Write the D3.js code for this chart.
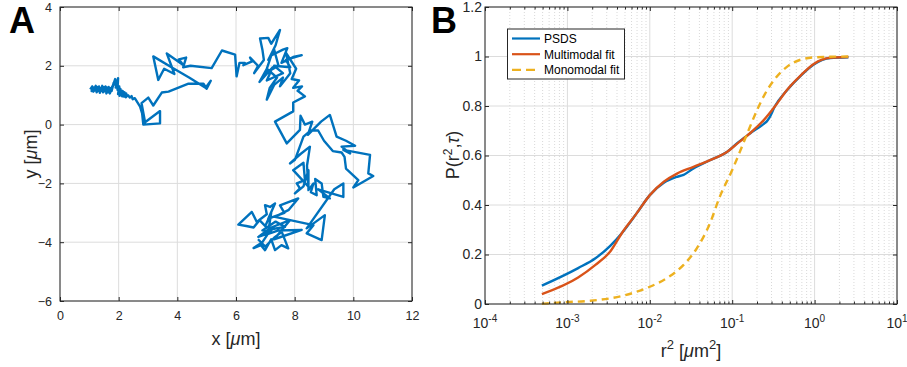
<!DOCTYPE html>
<html><head><meta charset="utf-8">
<script src="https://cdn.jsdelivr.net/npm/d3@7"></script>
<style>
body{margin:0;background:#fff;}
svg{display:block;font-family:"Liberation Sans",Arial,sans-serif;}
</style></head>
<body><svg id="c" width="907" height="367"></svg>
<script>
// ---------- Panel A data: trajectory (x, y in µm) ----------
const trajectory = [
[1.03,1.2],[1.1,1.3],[1.08,1.14],[1.16,1.26],[1.14,1.12],[1.22,1.32],[1.2,1.16],[1.28,1.28],[1.25,1.1],[1.33,1.3],
[1.31,1.14],[1.38,1.24],[1.36,1.08],[1.44,1.32],[1.42,1.15],[1.5,1.27],[1.47,1.1],[1.55,1.3],[1.53,1.13],[1.6,1.26],
[1.58,1.06],[1.66,1.28],[1.64,1.1],[1.72,1.24],[1.7,1.06],[1.78,1.3],[1.76,1.14],[1.83,1.42],[1.8,1.32],[1.88,1.55],
[1.86,1.36],[1.94,1.5],[1.9,1.26],[1.98,1.58],[1.96,1.18],[2.02,1.3],[1.98,1.04],[2.06,1.22],[2.03,0.98],[2.1,1.16],
[2.07,1.0],[2.14,1.14],[2.12,0.96],[2.2,1.1],[2.18,0.95],[2.26,1.06],[2.24,0.93],[2.32,1.0],[2.38,0.92],[2.44,0.97],
[2.48,0.86],[2.55,0.9],[2.73,0.61],[2.8,0.38],[2.84,0.0],[3.41,0.04],[3.41,0.46],[2.9,0.08],[2.78,0.73],[3.01,0.92],
[3.18,0.65],[3.47,1.09],[3.7,1.12],[4.38,1.39],[4.89,1.39],[5.0,1.22],[5.14,1.49],[4.96,1.25],[4.4,1.6],[3.8,1.95],
[3.18,2.32],[3.35,1.52],[3.55,1.9],[3.9,1.72],[3.64,2.42],[4.2,2.03],[4.05,2.22],[4.3,2.28],[4.2,1.95],[4.45,2.0],
[5.17,1.92],[5.52,2.52],[5.97,2.38],[6.02,1.64],[6.12,2.1],[6.3,2.1],[6.25,2.02],[6.55,2.15],[6.48,2.28],[6.75,2.0],
[6.62,1.75],[6.95,2.2],[6.9,2.55],[6.82,2.93],[7.1,2.95],[7.2,2.75],[7.5,3.22],[7.35,2.7],[7.1,2.2],[7.3,2.55],
[7.45,2.0],[7.0,1.75],[7.2,2.35],[7.6,2.55],[7.75,2.6],[7.55,2.1],[7.95,2.3],[8.24,2.36],[7.7,2.2],[7.85,1.95],
[7.3,2.0],[7.6,1.75],[7.05,1.5],[7.25,1.95],[6.8,1.45],[7.05,1.9],[7.4,1.6],[7.15,1.25],[7.05,0.85],[7.3,1.35],
[7.6,1.6],[7.5,1.3],[7.85,1.75],[7.7,2.45],[8.05,1.9],[7.9,1.55],[8.15,1.5],[7.95,1.25],[8.25,1.3],[8.1,1.15],
[8.35,0.96],[7.95,0.75],[7.95,0.45],[7.33,0.1],[7.73,-0.64],[8.18,-0.18],[8.2,0.3],[8.35,0.0],[8.6,0.1],[8.45,-0.35],
[8.9,0.1],[9.2,0.33],[9.43,-0.41],[9.75,-0.55],[10.06,-0.72],[9.6,-0.75],[9.89,-0.98],[9.66,-0.86],[10.57,-1.03],[10.51,-1.66],
[10.68,-1.75],[10.0,-2.14],[10.17,-1.89],[9.75,-1.5],[9.7,-1.1],[9.6,-0.95],[9.3,-0.9],[9.0,-0.55],[8.8,-0.2],[8.55,-0.2],
[8.3,-0.41],[8.01,-1.2],[7.84,-1.32],[8.2,-1.0],[8.52,-0.75],[8.42,-1.4],[8.47,-2.11],[7.95,-1.55],[8.3,-1.3],[8.35,-1.89],
[8.07,-2.0],[8.18,-2.17],[8.01,-2.34],[8.3,-2.1],[8.47,-1.55],[8.47,-2.23],[8.64,-2.0],[8.55,-2.3],[8.75,-2.4],[8.7,-1.85],
[8.92,-2.0],[8.98,-2.46],[9.2,-2.51],[8.8,-2.2],[9.66,-2.46],[9.66,-2.0],[9.35,-2.2],[8.41,-3.53],[9.03,-3.08],[8.92,-3.93],
[8.41,-3.7],[8.64,-3.42],[7.33,-3.14],[7.8,-2.9],[8.12,-2.51],[7.5,-2.75],[7.65,-3.0],[7.1,-3.2],[7.33,-2.68],[7.16,-2.8],
[6.99,-2.74],[7.05,-3.05],[6.85,-3.2],[6.71,-3.31],[6.54,-2.97],[6.08,-3.4],[6.35,-3.45],[6.6,-3.5],[6.8,-3.25],[7.0,-3.45],
[7.2,-3.0],[7.1,-3.65],[6.9,-3.6],[7.35,-3.3],[7.67,-3.48],[7.25,-3.55],[7.0,-3.75],[7.45,-3.6],[8.24,-3.58],[7.3,-3.9],
[7.84,-3.25],[7.2,-3.5],[6.76,-3.82],[7.1,-3.7],[6.9,-4.0],[6.6,-4.2],[6.85,-4.1],[6.99,-4.27],[7.2,-3.9],[7.33,-4.27],
[7.55,-4.1],[7.78,-4.21],[7.56,-3.65],[7.3,-3.85],[7.0,-4.15],[6.75,-3.9]
];
const xTicksA = [0,2,4,6,8,10,12];
const yTicksA = [-6,-4,-2,0,2,4];

// ---------- Panel B data ----------
const psdsR2 = [4.9e-4,1.35e-3,2.19e-3,3.31e-3,4.57e-3,6.92e-3,0.01,0.0148,0.0214,0.0257,0.0339,0.0537,0.0871,0.115,0.166,0.24,0.263,0.282,0.331,0.457,0.676,0.977,1.55,2.57];
const psdsP  = [0.074,0.145,0.185,0.235,0.286,0.366,0.44,0.49,0.514,0.522,0.548,0.581,0.615,0.65,0.69,0.727,0.738,0.752,0.80,0.862,0.922,0.968,0.994,0.997];
const multiR2 = [4.9e-4,1.35e-3,2.19e-3,3.31e-3,4.57e-3,6.92e-3,0.01,0.0148,0.0214,0.0339,0.0537,0.0871,0.115,0.166,0.24,0.331,0.457,0.676,0.977,1.55,2.57];
const multiP  = [0.040,0.107,0.158,0.212,0.286,0.366,0.44,0.494,0.527,0.554,0.581,0.615,0.648,0.691,0.742,0.799,0.863,0.923,0.970,0.995,0.998];
const monoR2 = [4.9e-4,8.9e-4,1.9e-3,4.8e-3,9.1e-3,0.0162,0.0257,0.0372,0.0537,0.0708,0.1,0.126,0.158,0.2,0.251,0.331,0.457,0.676,1.07,2.57];
const monoP  = [0.001,0.007,0.013,0.034,0.064,0.105,0.158,0.225,0.326,0.434,0.541,0.621,0.702,0.783,0.850,0.910,0.957,0.987,0.997,1.0];
const xTickExpB = [-4,-3,-2,-1,0,1];
const yTicksB = [0,0.2,0.4,0.6,0.8,1,1.2];
const legendLabels = ["PSDS","Multimodal fit","Monomodal fit"];

const colors = {blue:"#0072BD", red:"#D95319", yellow:"#EDB120", axis:"#262626", grid:"#dcdcdc"};

const svg = d3.select("#c");

// ================= Panel A =================
const xA = d3.scaleLinear().domain([0,12]).range([60,412]);
const yA = d3.scaleLinear().domain([-6,4]).range([301,7]);
const gA = svg.append("g");
gA.selectAll(".gx").data(xTicksA).join("line").attr("x1",d=>xA(d)).attr("x2",d=>xA(d))
  .attr("y1",yA.range()[0]).attr("y2",yA.range()[1]).attr("stroke",colors.grid).attr("stroke-width",1);
gA.selectAll(".gy").data(yTicksA).join("line").attr("y1",d=>yA(d)).attr("y2",d=>yA(d))
  .attr("x1",xA.range()[0]).attr("x2",xA.range()[1]).attr("stroke",colors.grid).attr("stroke-width",1);
gA.append("path").datum(trajectory)
  .attr("d", d3.line().x(d=>xA(d[0])).y(d=>yA(d[1])))
  .attr("fill","none").attr("stroke",colors.blue).attr("stroke-width",2.4).attr("stroke-linejoin","round");
function frame(g, x, y){
  const [x0,x1]=x.range(), [y0,y1]=y.range();
  g.append("rect").attr("x",x0).attr("y",y1).attr("width",x1-x0).attr("height",y0-y1)
   .attr("fill","none").attr("stroke",colors.axis).attr("stroke-width",1);
}
frame(gA,xA,yA);
const axAx = gA.append("g").attr("transform",`translate(0,${yA.range()[0]})`)
  .call(d3.axisBottom(xA).tickValues(xTicksA).tickSizeInner(-4).tickSizeOuter(0).tickPadding(10));
const axAxT = gA.append("g").attr("transform",`translate(0,${yA.range()[1]})`)
  .call(d3.axisTop(xA).tickValues(xTicksA).tickSizeInner(-4).tickSizeOuter(0).tickFormat(""));
const axAy = gA.append("g").attr("transform",`translate(${xA.range()[0]},0)`)
  .call(d3.axisLeft(yA).tickValues(yTicksA).tickSizeInner(-4).tickSizeOuter(0).tickPadding(8));
const axAyR = gA.append("g").attr("transform",`translate(${xA.range()[1]},0)`)
  .call(d3.axisRight(yA).tickValues(yTicksA).tickSizeInner(-4).tickSizeOuter(0).tickFormat(""));
[axAx,axAxT,axAy,axAyR].forEach(a=>{
  a.select(".domain").remove();
  a.selectAll("line").attr("stroke",colors.axis);
  a.selectAll("text").attr("fill",colors.axis).style("font-size","12.5px").style("font-family","Liberation Sans, Arial, sans-serif");
});
const xlabA = gA.append("text").attr("x",236).attr("y",345).attr("text-anchor","middle")
  .style("font-size","18px").attr("fill",colors.axis);
xlabA.append("tspan").text("x [");
xlabA.append("tspan").attr("font-style","italic").text("μ");
xlabA.append("tspan").text("m]");
const ylabA = gA.append("text").attr("transform","translate(37,154) rotate(-90)").attr("text-anchor","middle")
  .style("font-size","18px").attr("fill",colors.axis);
ylabA.append("tspan").text("y [");
ylabA.append("tspan").attr("font-style","italic").text("μ");
ylabA.append("tspan").text("m]");
svg.append("text").attr("x",9).attr("y",33).text("A").style("font-size","36px").style("font-weight","bold").attr("fill","#000");

// ================= Panel B =================
const xB = d3.scaleLog().domain([1e-4,10]).range([485,897]);
const yB = d3.scaleLinear().domain([0,1.2]).range([304,7]);
const gB = svg.append("g");
const minor = [];
for (let e=-4;e<1;e++) for (let k=2;k<=9;k++) minor.push(k*Math.pow(10,e));
gB.selectAll(".mg").data(minor).join("line").attr("x1",d=>xB(d)).attr("x2",d=>xB(d))
  .attr("y1",yB.range()[0]).attr("y2",yB.range()[1]).attr("stroke","#c8c8c8").attr("stroke-width",0.7).attr("stroke-dasharray","1,2");
gB.selectAll(".Mg").data(xTickExpB).join("line").attr("x1",d=>xB(Math.pow(10,d))).attr("x2",d=>xB(Math.pow(10,d)))
  .attr("y1",yB.range()[0]).attr("y2",yB.range()[1]).attr("stroke",colors.grid).attr("stroke-width",1);
gB.selectAll(".gyB").data(yTicksB).join("line").attr("y1",d=>yB(d)).attr("y2",d=>yB(d))
  .attr("x1",xB.range()[0]).attr("x2",xB.range()[1]).attr("stroke",colors.grid).attr("stroke-width",1);

const lineS = d3.line().x(d=>xB(d[0])).y(d=>yB(d[1])).curve(d3.curveMonotoneX);
gB.append("path").datum(psdsR2.map((r,i)=>[r,psdsP[i]])).attr("d",lineS)
  .attr("fill","none").attr("stroke",colors.blue).attr("stroke-width",2.4);
gB.append("path").datum(multiR2.map((r,i)=>[r,multiP[i]])).attr("d",lineS)
  .attr("fill","none").attr("stroke",colors.red).attr("stroke-width",2.4);
gB.append("path").datum(monoR2.map((r,i)=>[r,monoP[i]])).attr("d",lineS)
  .attr("fill","none").attr("stroke",colors.yellow).attr("stroke-width",2.4).attr("stroke-dasharray","7,5");

frame(gB,xB,yB);
const majorVals = xTickExpB.map(e=>Math.pow(10,e));
const bx = gB.append("g").attr("transform",`translate(0,${yB.range()[0]})`)
  .call(d3.axisBottom(xB).tickValues(majorVals).tickSizeInner(-4).tickSizeOuter(0).tickFormat(""));
const bxT = gB.append("g").attr("transform",`translate(0,${yB.range()[1]})`)
  .call(d3.axisTop(xB).tickValues(majorVals).tickSizeInner(-4).tickSizeOuter(0).tickFormat(""));
const bxm = gB.append("g").attr("transform",`translate(0,${yB.range()[0]})`)
  .call(d3.axisBottom(xB).tickValues(minor).tickSizeInner(-2.5).tickSizeOuter(0).tickFormat(""));
const bxmT = gB.append("g").attr("transform",`translate(0,${yB.range()[1]})`)
  .call(d3.axisTop(xB).tickValues(minor).tickSizeInner(-2.5).tickSizeOuter(0).tickFormat(""));
const by = gB.append("g").attr("transform",`translate(${xB.range()[0]},0)`)
  .call(d3.axisLeft(yB).tickValues(yTicksB).tickSizeInner(-4).tickSizeOuter(0).tickPadding(3).tickFormat(d=>d3.format("~g")(d)));
const byR = gB.append("g").attr("transform",`translate(${xB.range()[1]},0)`)
  .call(d3.axisRight(yB).tickValues(yTicksB).tickSizeInner(-4).tickSizeOuter(0).tickFormat(""));
[bx,bxT,bxm,bxmT,by,byR].forEach(a=>{
  a.select(".domain").remove();
  a.selectAll("line").attr("stroke",colors.axis);
  a.selectAll("text").attr("fill",colors.axis).style("font-size","14px").style("font-family","Liberation Sans, Arial, sans-serif");
});
const xl = gB.selectAll(".xl").data(xTickExpB).join("text")
  .attr("x",d=>xB(Math.pow(10,d))).attr("y",328).attr("text-anchor","middle")
  .style("font-size","14px").attr("fill",colors.axis);
xl.append("tspan").text("10");
xl.append("tspan").attr("dy",-6).style("font-size","10px").text(d=>d<0?"-"+(-d):String(d));

const xlabB = gB.append("text").attr("x",691).attr("y",357).attr("text-anchor","middle")
  .style("font-size","18px").attr("fill",colors.axis);
xlabB.append("tspan").text("r");
xlabB.append("tspan").attr("dy",-8).style("font-size","13px").text("2");
xlabB.append("tspan").attr("dy",8).text(" [");
xlabB.append("tspan").attr("font-style","italic").text("μ");
xlabB.append("tspan").text("m");
xlabB.append("tspan").attr("dy",-8).style("font-size","13px").text("2");
xlabB.append("tspan").attr("dy",8).text("]");
const ylabB = gB.append("g").attr("transform","translate(459,155) rotate(-90)");
const ylt = ylabB.append("text").attr("text-anchor","middle").style("font-size","18px").attr("fill",colors.axis);
ylt.append("tspan").text("P(r");
ylt.append("tspan").attr("baseline-shift","super").style("font-size","12px").text("2");
ylt.append("tspan").text(",");
ylt.append("tspan").attr("font-style","italic").text("τ");
ylt.append("tspan").text(")");
svg.append("text").attr("x",431).attr("y",33).text("B").style("font-size","36px").style("font-weight","bold").attr("fill","#000");

const lg = gB.append("g");
lg.append("rect").attr("x",507.5).attr("y",29).attr("width",117).attr("height",50)
  .attr("fill","#fff").attr("stroke",colors.axis).attr("stroke-width",1);
const legStyles = [
  {c:colors.blue,dash:null},{c:colors.red,dash:null},{c:colors.yellow,dash:"9,5"}];
legendLabels.forEach((lab,i)=>{
  const yy = 38.5 + i*15.7;
  lg.append("line").attr("x1",512).attr("x2",540).attr("y1",yy).attr("y2",yy)
    .attr("stroke",legStyles[i].c).attr("stroke-width",2.2).attr("stroke-dasharray",legStyles[i].dash);
  lg.append("text").attr("x",544).attr("y",yy+4.3).text(lab).style("font-size","12px").attr("fill","#000");
});
</script></body></html>
